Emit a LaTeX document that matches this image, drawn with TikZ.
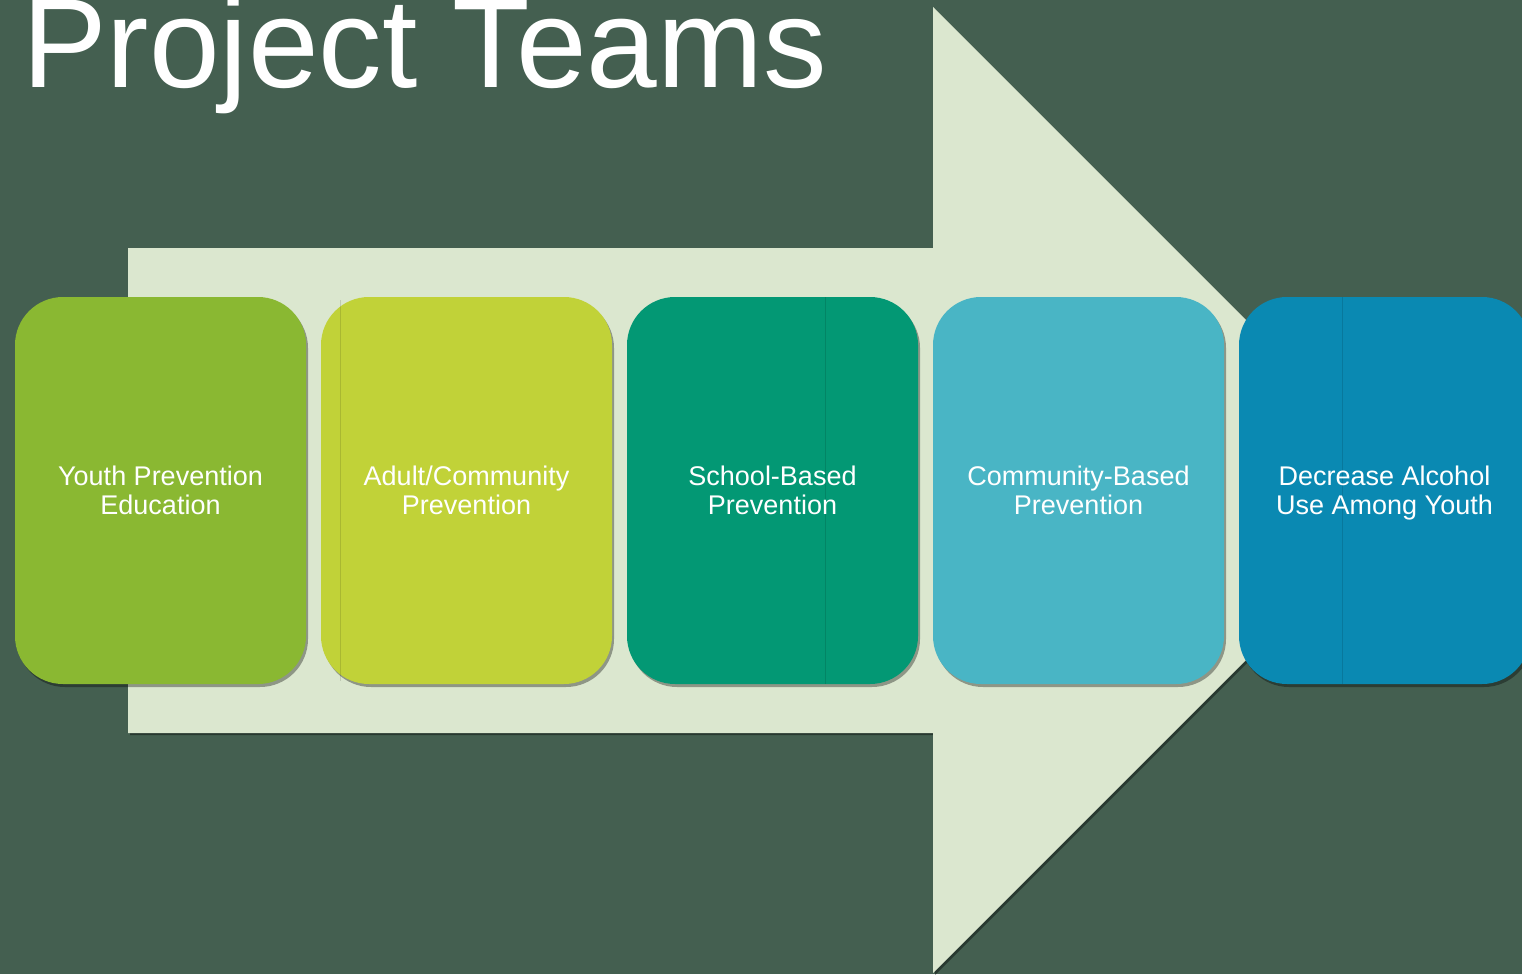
\documentclass[tikz,border=0pt]{standalone}
\usepackage{fontspec}
\setmainfont{Liberation Sans}
\usetikzlibrary{shadows}
\definecolor{bgc}{HTML}{445F50}
\definecolor{arrowc}{HTML}{DBE7CF}
\definecolor{boxa}{HTML}{8AB832}
\definecolor{boxb}{HTML}{C1D238}
\definecolor{boxc}{HTML}{039874}
\definecolor{boxd}{HTML}{49B5C5}
\definecolor{boxe}{HTML}{0A89B2}
\tikzset{
  card/.style={rectangle, rounded corners=48pt, minimum width=291pt, minimum height=387pt,
    inner sep=0pt,
    drop shadow={shadow xshift=2pt, shadow yshift=-3pt, opacity=0.35, fill=black}},
  cardtext/.style={inner sep=0pt, text=white, align=center,
    font=\fontsize{27pt}{29pt}\selectfont},
  seam/.style={line width=0.6pt, opacity=0.12, draw=black}
}
\begin{document}
\begin{tikzpicture}[x=1pt,y=-1pt]
\useasboundingbox (0,0) rectangle (1522,974);
\clip (0,0) rectangle (1522,974);
\fill[bgc] (0,0) rectangle (1522,974);
% big arrow
\path[fill=arrowc, drop shadow={shadow xshift=2pt, shadow yshift=-2pt, opacity=0.4, fill=black}]
  (128,248) -- (933,248) -- (933,7) -- (1416,490) -- (933,973) -- (933,733) -- (128,733) -- cycle;
% title
\node[anchor=base west, inner sep=0pt, text=white, font=\fontsize{127pt}{127pt}\selectfont] (title) at (22,88) {Project Teams};
% cards
\node[card, fill=boxa] (b1) at (160.5,490.5) {};
\node[card, fill=boxb] (b2) at (466.5,490.5) {};
\node[card, fill=boxc] (b3) at (772.5,490.5) {};
\node[card, fill=boxd] (b4) at (1078.5,490.5) {};
\node[card, fill=boxe] (b5) at (1384.5,490.5) {};
% faint seams
\draw[seam] (340,300) -- (340,681);
\draw[seam] (825,297) -- (825,684);
\draw[seam] (1342,297) -- (1342,684);
% card texts
\node[cardtext] (t1) at ([yshift=-3.2pt]b1.center) {Youth Prevention\strut\\Education\strut};
\node[cardtext] (t2) at ([yshift=-3.2pt]b2.center) {Adult/Community\strut\\Prevention\strut};
\node[cardtext] (t3) at ([yshift=-3.2pt]b3.center) {School-Based\strut\\Prevention\strut};
\node[cardtext] (t4) at ([yshift=-3.2pt]b4.center) {Community-Based\strut\\Prevention\strut};
\node[cardtext] (t5) at ([yshift=-3.2pt]b5.center) {Decrease Alcohol\strut\\Use Among Youth\strut};
\end{tikzpicture}
\end{document}
